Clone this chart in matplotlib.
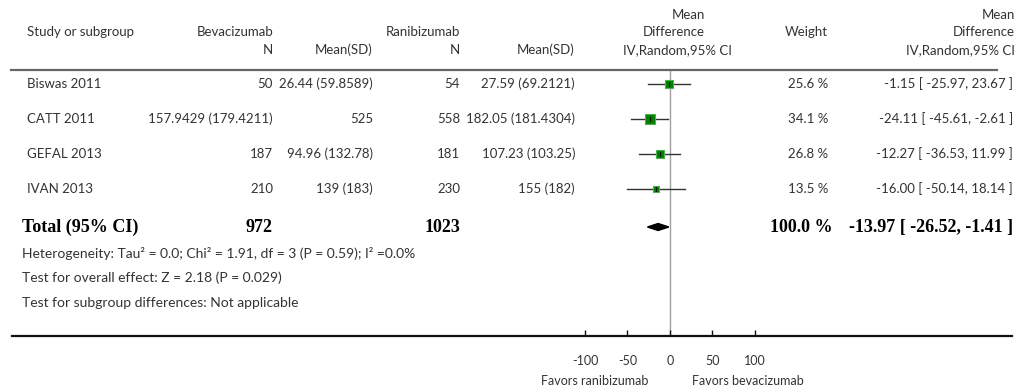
# Forest plot: bevacizumab vs ranibizumab, mean difference (IV, random, 95% CI)
import numpy as np
import matplotlib
matplotlib.use("Agg")
import matplotlib.pyplot as plt
from matplotlib.lines import Line2D

# Data
studies = ["Biswas 2011", "CATT 2011", "GEFAL 2013", "IVAN 2013"]
bev_n = ["50", "157.9429 (179.4211)", "187", "210"]
bev_mean = ["26.44 (59.8589)", "525", "94.96 (132.78)", "139 (183)"]
ran_n = ["54", "558", "181", "230"]
ran_mean = ["27.59 (69.2121)", "182.05 (181.4304)", "107.23 (103.25)", "155 (182)"]
md = [-1.15, -24.11, -12.27, -16.00]
ci_lo = [-25.97, -45.61, -36.53, -50.14]
ci_hi = [23.67, -2.61, 11.99, 18.14]
weights = [25.6, 34.1, 26.8, 13.5]

total_bev, total_ran = "972", "1023"
total_md, total_lo, total_hi = -13.97, -26.52, -1.41
total_weight = 100.0

footnotes = [
    "Heterogeneity: Tau\u00b2 = 0.0; Chi\u00b2 = 1.91, df = 3 (P = 0.59); I\u00b2 =0.0%",
    "Test for overall effect: Z = 2.18 (P = 0.029)",
    "Test for subgroup differences: Not applicable",
]
ticks = [-100, -50, 0, 50, 100]

# Layout (pixels)
W, H = 1024, 390
FONT = "Lato"
GREY = "#333333"
FS = 9.5


def fx(px):
    return px / W


def fy(py):
    return 1 - py / H


fig = plt.figure(figsize=(W / 100, H / 100), dpi=100)

# forest axes: bottom spine at y=336, top at header line y=70, x from 12 to 1012
x0, x1, ytop, ybot = 12, 1012, 70, 336
ax = fig.add_axes([fx(x0), fy(ybot), fx(x1 - x0), (ybot - ytop) / H])
scale = 0.85  # px per unit
zero_px = 670
ax.set_xlim(-(zero_px - x0) / scale, (x1 - zero_px) / scale)
row_px = [84, 119, 154, 189]
total_px = 227
# y in pixel units inside the axes
ax.set_ylim(ybot, ytop)
for s in ["top", "left", "right"]:
    ax.spines[s].set_visible(False)
ax.spines["bottom"].set_linewidth(1.6)
ax.spines["bottom"].set_color("#111111")
ax.set_yticks([])
ax.set_xticks(ticks)
ax.set_xticklabels([str(t) for t in ticks], family=FONT, fontsize=9, color=GREY)
ax.tick_params(axis="x", direction="in", length=4, width=1, pad=14, color="#111111")
ax.axvline(0, color="#a0a0a0", lw=1, zorder=1)
ax.patch.set_visible(False)

for i in range(len(studies)):
    y = row_px[i]
    ax.plot([ci_lo[i], ci_hi[i]], [y, y], color="#333333", lw=1, zorder=2)
    side = np.sqrt(weights[i]) * 1.7
    ax.plot(md[i], y, marker="s", ms=side * 0.72, mfc="#008000",
            mec="#4caf50", mew=0.8, zorder=3)
    ax.plot([md[i], md[i]], [y - 2, y + 2], color="#111111", lw=0.8, zorder=4)

ax.fill([total_lo, total_md, total_hi, total_md],
        [total_px, total_px - 3.5, total_px, total_px + 3.5],
        color="black", zorder=3)

# header line and text
fig.add_artist(Line2D([fx(11), fx(997)], [fy(70), fy(70)], color="#666666", lw=1.6))

kw = dict(family=FONT, fontsize=FS, color=GREY, va="center")
fig.text(fx(27), fy(32), "Study or subgroup", ha="left", **kw)
fig.text(fx(273), fy(32), "Bevacizumab", ha="right", **kw)
fig.text(fx(460), fy(32), "Ranibizumab", ha="right", **kw)
fig.text(fx(273), fy(50), "N", ha="right", **kw)
fig.text(fx(373), fy(50), "Mean(SD)", ha="right", **kw)
fig.text(fx(460), fy(50), "N", ha="right", **kw)
fig.text(fx(575), fy(50), "Mean(SD)", ha="right", **kw)
fig.text(fx(705), fy(15), "Mean", ha="right", **kw)
fig.text(fx(705), fy(32), "Difference", ha="right", **kw)
fig.text(fx(732), fy(50), "IV,Random,95% CI", ha="right", **kw)
fig.text(fx(828), fy(32), "Weight", ha="right", **kw)
fig.text(fx(1015), fy(15), "Mean", ha="right", **kw)
fig.text(fx(1015), fy(32), "Difference", ha="right", **kw)
fig.text(fx(1015), fy(50), "IV,Random,95% CI", ha="right", **kw)

# study rows
for i, name in enumerate(studies):
    y = fy(row_px[i])
    fig.text(fx(27), y, name, ha="left", **kw)
    fig.text(fx(273), y, bev_n[i], ha="right", **kw)
    fig.text(fx(373), y, bev_mean[i], ha="right", **kw)
    fig.text(fx(460), y, ran_n[i], ha="right", **kw)
    fig.text(fx(575), y, ran_mean[i], ha="right", **kw)
    fig.text(fx(828), y, f"{weights[i]:.1f} %", ha="right", **kw)
    fig.text(fx(1013), y, f"{md[i]:.2f} [ {ci_lo[i]:.2f}, {ci_hi[i]:.2f} ]", ha="right", **kw)

# total row
bk = dict(family="Liberation Serif", fontsize=13, weight="bold", color="black", va="center")
yt = fy(total_px)
fig.text(fx(22), yt, "Total (95% CI)", ha="left", **bk)
fig.text(fx(273), yt, total_bev, ha="right", **bk)
fig.text(fx(460), yt, total_ran, ha="right", **bk)
fig.text(fx(833), yt, f"{total_weight:.1f} %", ha="right", **bk)
fig.text(fx(1013), yt, f"{total_md:.2f} [ {total_lo:.2f}, {total_hi:.2f} ]", ha="right", **bk)

for j, note in enumerate(footnotes):
    fig.text(fx(22), fy(253 + 25 * j), note, ha="left", **dict(kw, fontsize=10))

fig.text(fx(648), fy(381), "Favors ranibizumab", ha="right", **dict(kw, fontsize=9))
fig.text(fx(692), fy(381), "Favors bevacizumab", ha="left", **dict(kw, fontsize=9))

fig.savefig("out.png", dpi=100, facecolor="white")
